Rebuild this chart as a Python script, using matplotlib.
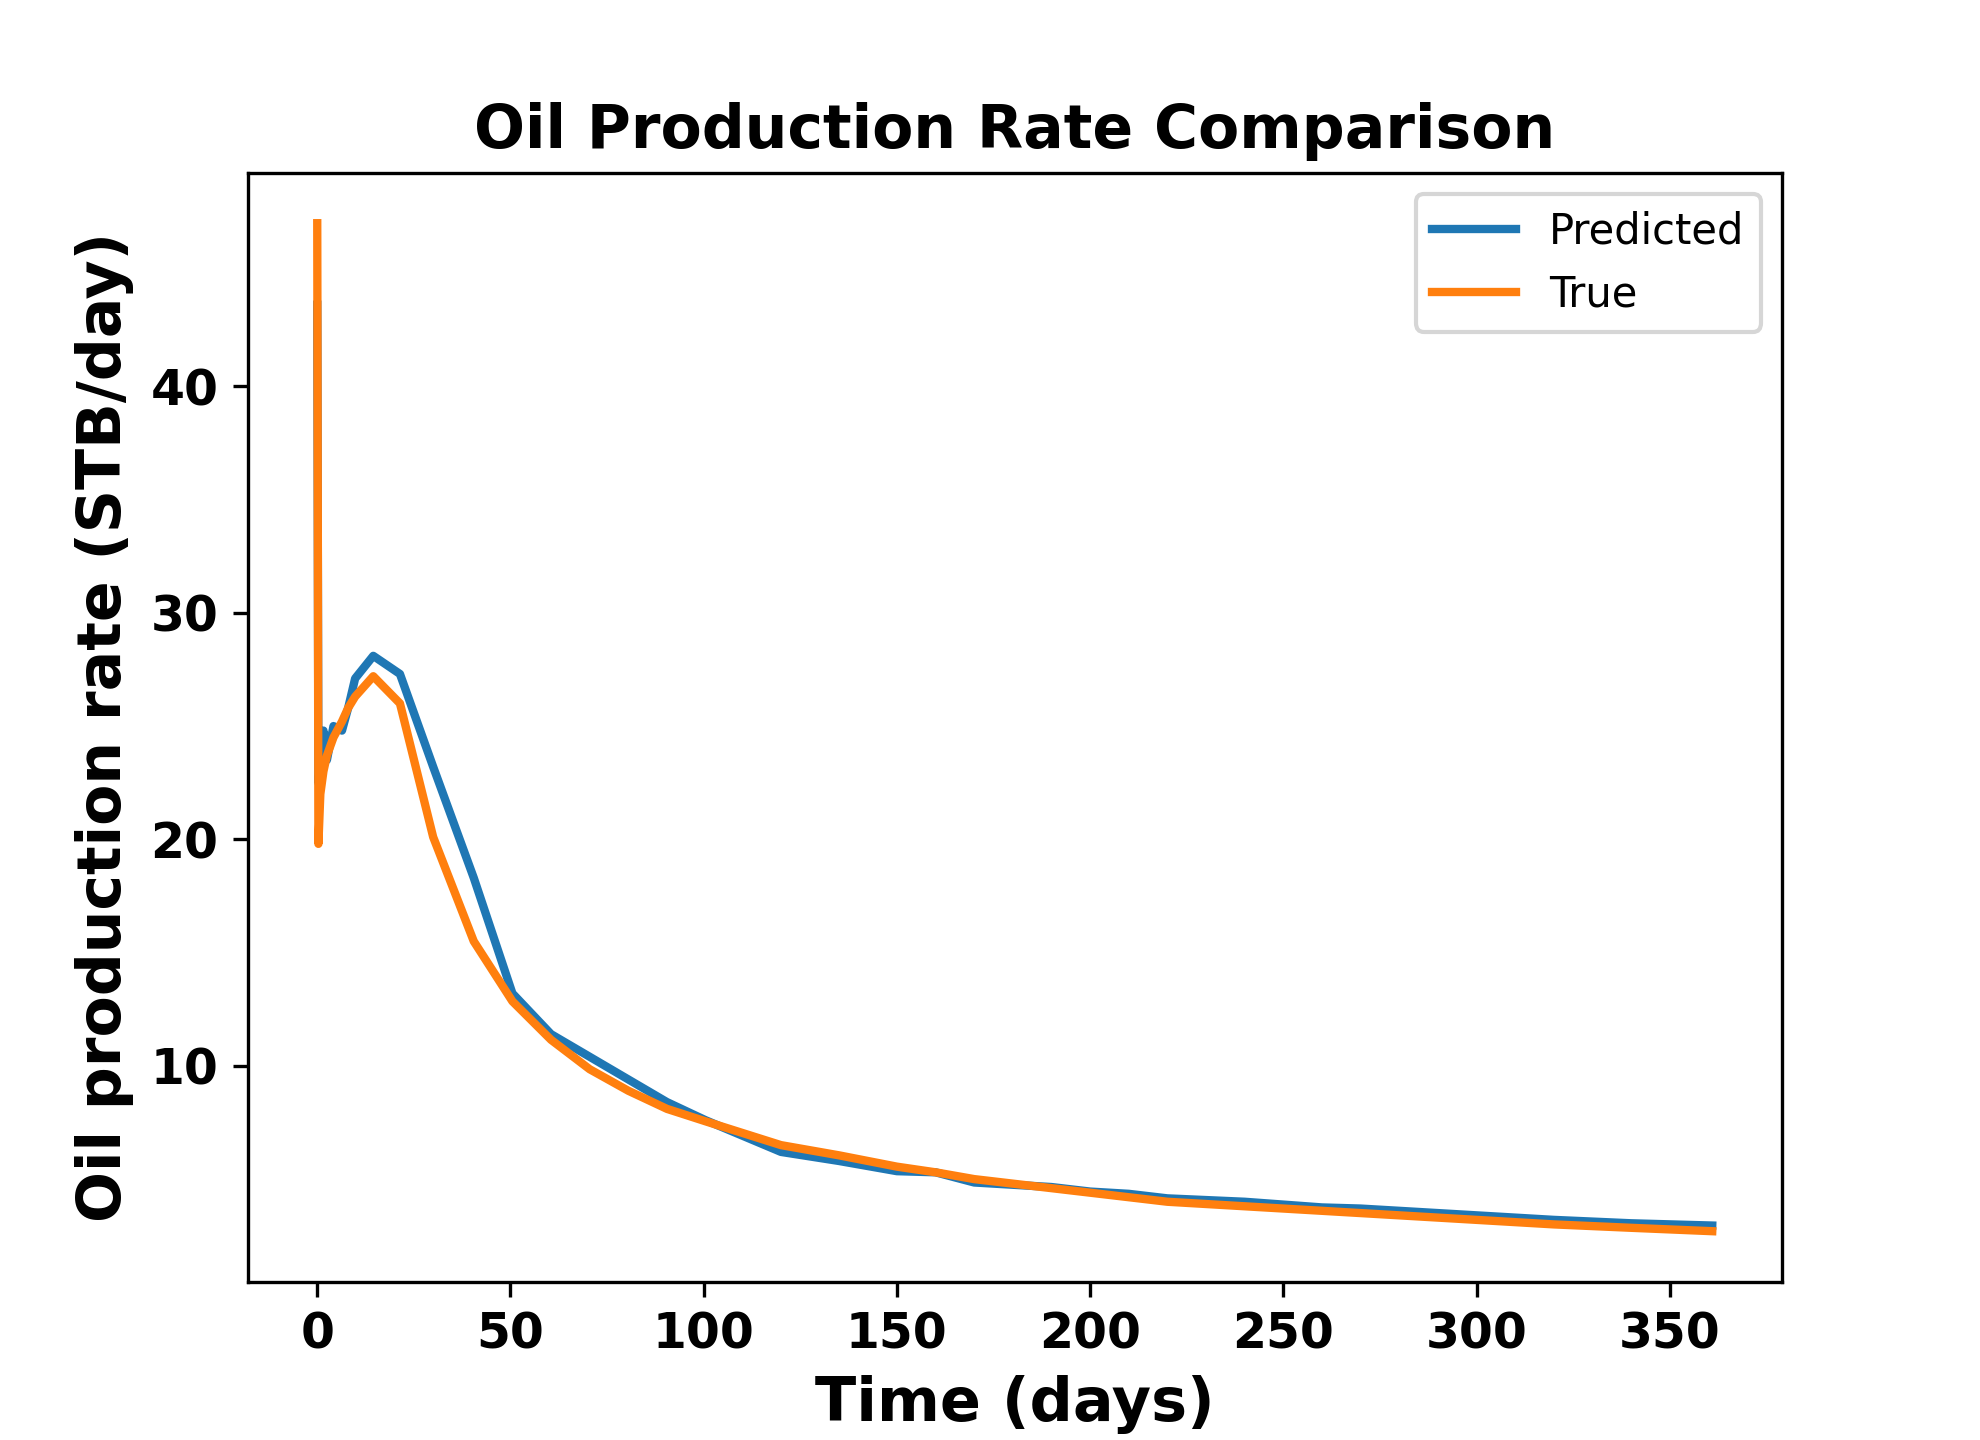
import matplotlib
matplotlib.use('Agg')
import matplotlib.pyplot as plt

# time steps (days)
time_days = [0, 0.3, 0.8, 1.6, 2.5, 4.2, 6.4, 8.0, 9.8, 14.5, 21.4, 30, 40.5,
             50.5, 60.5, 70.5, 80.5, 90.5, 100.5, 120, 135, 150, 160, 170, 180,
             190, 200, 210, 220, 240, 260, 270, 280, 300, 320, 340, 361]

predicted = [43.6, 22.5, 23.5, 24.8, 23.5, 25.0, 24.8, 25.8, 27.1, 28.1, 27.3,
             23.2, 18.3, 13.2, 11.4, 10.4, 9.4, 8.4, 7.6, 6.2, 5.8, 5.35, 5.3,
             4.85, 4.75, 4.65, 4.45, 4.35, 4.15, 4.0, 3.75, 3.7, 3.6, 3.4, 3.2,
             3.05, 2.95]

true_rate = [47.2, 19.8, 22.0, 23.0, 23.7, 24.5, 25.2, 25.8, 26.3, 27.2, 26.0,
             20.1, 15.5, 12.85, 11.15, 9.85, 8.9, 8.1, 7.55, 6.5, 6.05, 5.55,
             5.3, 5.0, 4.8, 4.6, 4.4, 4.2, 4.0, 3.8, 3.6, 3.5, 3.4, 3.2, 3.0,
             2.85, 2.7]

fig, ax = plt.subplots(figsize=(6.6, 4.8), dpi=300)

ax.plot(time_days, predicted, color='#1f77b4', linewidth=2, label='Predicted')
ax.plot(time_days, true_rate, color='#ff7f0e', linewidth=2, label='True')

ax.set_title('Oil Production Rate Comparison', fontsize=14.4, fontweight='bold')
ax.set_xlabel('Time (days)', fontsize=14.5, fontweight='bold')
ax.set_ylabel('Oil production rate (STB/day)', fontsize=14.4, fontweight='bold')
for lbl in ax.get_xticklabels() + ax.get_yticklabels():
    lbl.set_fontweight('bold')
    lbl.set_fontsize(11.7)
ax.legend(loc='upper right', fontsize=10)

plt.savefig('out.png', dpi=300)
plt.close(fig)
